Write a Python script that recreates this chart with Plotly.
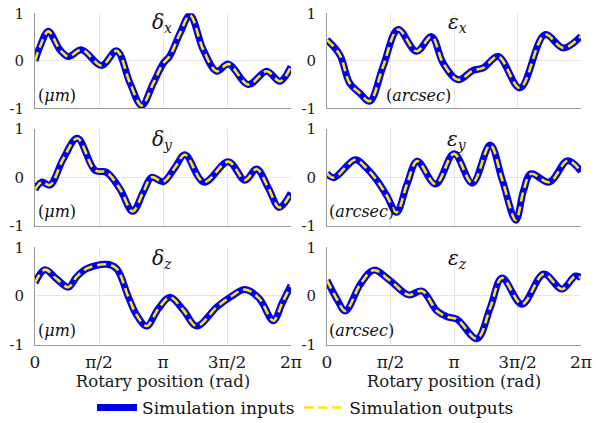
import numpy as np
import plotly.graph_objects as go
from plotly.subplots import make_subplots

PI = np.pi

# ---- data (x in radians, y values) ----
dx_x = [0, 0.123, 0.327, 0.614, 0.818, 1.145, 1.636, 2.004, 2.332, 2.618, 2.904, 3.15, 3.30, 3.559, 3.804, 4.131, 4.459, 4.745, 5.236, 5.686, 6.013, 6.283]
dx_y = [0.0, 0.30, 0.62, 0.23, 0.09, 0.23, -0.10, 0.21, -0.47, -0.94, -0.47, -0.05, 0.09, 0.58, 0.96, 0.23, -0.22, -0.07, -0.50, -0.22, -0.43, -0.12]

ex_x = [0, 0.314, 0.561, 0.809, 1.057, 1.387, 1.759, 2.213, 2.584, 2.873, 3.245, 3.616, 3.864, 4.236, 4.772, 5.391, 5.845, 6.283]
ex_y = [0.44, 0.13, -0.47, -0.68, -0.85, -0.12, 0.66, 0.20, 0.51, -0.05, -0.40, -0.20, -0.15, 0.09, -0.57, 0.55, 0.27, 0.52]

dy_x = [0, 0.164, 0.368, 0.695, 1.039, 1.473, 1.759, 2.086, 2.397, 2.659, 2.863, 3.150, 3.436, 3.681, 4.147, 4.745, 5.154, 5.440, 5.727, 5.997, 6.283]
dy_y = [-0.25, -0.10, -0.16, 0.38, 0.80, 0.14, 0.10, -0.24, -0.70, -0.30, 0.0, -0.09, 0.20, 0.46, -0.10, 0.32, -0.06, 0.17, -0.22, -0.62, -0.32]

ey_x = [0, 0.165, 0.703, 0.95, 1.240, 1.48, 1.720, 1.98, 2.232, 2.687, 3.142, 3.596, 4.034, 4.340, 4.671, 4.86, 5.043, 5.498, 5.952, 6.283]
ey_y = [0.08, -0.01, 0.36, 0.21, -0.07, -0.38, -0.72, -0.14, 0.33, -0.14, 0.48, -0.12, 0.66, -0.07, -0.88, -0.28, 0.07, -0.10, 0.34, 0.12]

dz_x = [0, 0.245, 0.53, 0.818, 1.02, 1.268, 1.759, 2.004, 2.291, 2.50, 2.741, 3.03, 3.313, 3.64, 3.968, 4.459, 4.80, 5.154, 5.50, 5.850, 6.06, 6.283]
dz_y = [0.27, 0.54, 0.35, 0.18, 0.39, 0.56, 0.65, 0.56, -0.02, -0.40, -0.62, -0.26, -0.03, -0.29, -0.62, -0.23, -0.02, 0.13, -0.05, -0.51, -0.16, 0.22]

ez_x = [0, 0.247, 0.454, 0.825, 1.154, 1.567, 2.020, 2.350, 2.721, 2.968, 3.216, 3.710, 4.040, 4.329, 4.824, 5.360, 5.813, 6.143, 6.283]
ez_y = [0.32, -0.07, -0.31, 0.24, 0.53, 0.31, 0.02, 0.10, -0.31, -0.43, -0.48, -0.88, -0.24, 0.37, -0.17, 0.45, 0.14, 0.41, 0.37]

panels = [
    (dx_x, dx_y, "<i>δ<sub>x</sub></i>", "(<i>μm</i>)"),
    (ex_x, ex_y, "<i>ε<sub>x</sub></i>", "(<i>arcsec</i>)"),
    (dy_x, dy_y, "<i>δ<sub>y</sub></i>", "(<i>μm</i>)"),
    (ey_x, ey_y, "<i>ε<sub>y</sub></i>", "(<i>arcsec</i>)"),
    (dz_x, dz_y, "<i>δ<sub>z</sub></i>", "(<i>μm</i>)"),
    (ez_x, ez_y, "<i>ε<sub>z</sub></i>", "(<i>arcsec</i>)"),
]

tick_vals = [0, PI / 2, PI, 3 * PI / 2, 2 * PI]
tick_text = ["0", "π/2", "π", "3π/2", "2π"]
ytick_vals = [-1, 0, 1]
ytick_text = ["-1", "0", "1"]

W, H = 611, 423
FONT = "DejaVu Serif, Liberation Serif, serif"
BLUE = "#0000f0"
YELLOW = "#ffe400"

fig = make_subplots(rows=3, cols=2)

# pixel boxes
col_px = [(35, 291), (327, 581)]
row_px = [(13.3, 108.3), (128.5, 226.0), (247.3, 344.5)]

for i, (xs, ys, title, unit) in enumerate(panels):
    r, c = i // 2 + 1, i % 2 + 1
    first = i == 0
    fig.add_trace(go.Scatter(x=xs, y=ys, mode="lines", line=dict(color=BLUE, width=7, shape="spline", smoothing=1.0),
                             name="Simulation inputs", showlegend=first, legendgroup="in"), row=r, col=c)
    fig.add_trace(go.Scatter(x=xs, y=ys, mode="lines", line=dict(color=YELLOW, width=2.6, shape="spline", smoothing=1.0, dash="9px,5px"),
                             name="Simulation outputs", showlegend=first, legendgroup="out"), row=r, col=c)
    x0, x1 = col_px[c - 1]
    y0, y1 = row_px[r - 1]
    ax = "" if i == 0 else str(i + 1)
    fig.layout["xaxis" + ax].domain = [x0 / W, x1 / W]
    fig.layout["yaxis" + ax].domain = [1 - y1 / H, 1 - y0 / H]
    fig.update_xaxes(range=[0, 2 * PI], tickvals=tick_vals, ticktext=tick_text, showticklabels=(r == 3),
                     showgrid=True, gridcolor="#e6e6e6", gridwidth=1, zeroline=False, automargin=False,
                     showline=True, linecolor="#9a9a9a", linewidth=1, ticks="", ticklabelstandoff=2,
                     tickfont=dict(family=FONT, size=17, color="#1a1a1a"), row=r, col=c)
    fig.update_yaxes(range=[-1, 1], tickvals=ytick_vals, ticktext=ytick_text,
                     showgrid=True, gridcolor="#e6e6e6", gridwidth=1, zeroline=False, automargin=False,
                     showline=True, linecolor="#9a9a9a", linewidth=1, ticks="", ticklabelstandoff=7,
                     tickfont=dict(family=FONT, size=15, color="#1a1a1a"), row=r, col=c)
    if r == 3:
        fig.update_xaxes(title=dict(text="Rotary position (rad)", font=dict(family=FONT, size=16.5, color="#1a1a1a"), standoff=0), row=r, col=c)
    # panel title
    tx = 162 if c == 1 else 457
    ty = [23, 140, 259][r - 1]
    fig.add_annotation(x=tx / W, y=1 - ty / H, xref="paper", yref="paper", text=title, showarrow=False,
                       font=dict(family=FONT, size=20, color="#111"), xanchor="center", yanchor="middle")
    # unit label
    if c == 1:
        ux = 36
    else:
        ux = 384 if r == 1 else 327
    uy = [95, 212, 330][r - 1]
    fig.add_annotation(x=ux / W, y=1 - uy / H, xref="paper", yref="paper", text=unit, showarrow=False,
                       font=dict(family=FONT, size=16, color="#111"), xanchor="left", yanchor="middle")

fig.update_layout(
    width=W, height=H,
    margin=dict(l=0, r=0, t=0, b=0, autoexpand=False),
    paper_bgcolor="white", plot_bgcolor="white",
    showlegend=True,
    legend=dict(orientation="h", x=0.5, xanchor="center", y=1 - 408 / H, yanchor="middle",
                font=dict(family=FONT, size=17, color="#111"), bgcolor="rgba(0,0,0,0)", itemwidth=40),
)

fig.write_html("out.html", config={"displayModeBar": False},
               post_script="document.body.style.margin='0';document.body.style.overflow='hidden';")
